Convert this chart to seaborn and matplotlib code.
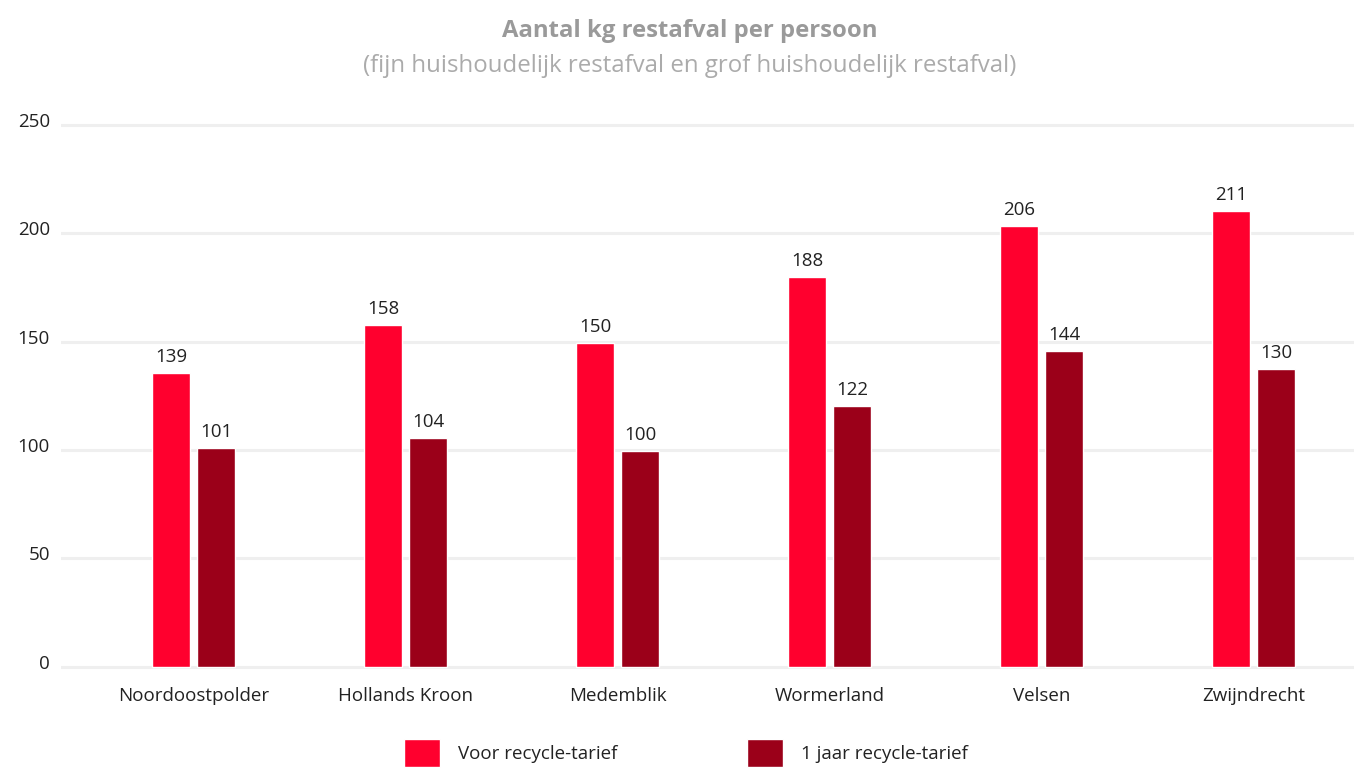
import matplotlib
matplotlib.use("Agg")
import matplotlib.pyplot as plt
import matplotlib.transforms as mtransforms
import seaborn as sns
import pandas as pd

gemeenten = ["Noordoostpolder", "Hollands Kroon", "Medemblik", "Wormerland", "Velsen", "Zwijndrecht"]
series_names = ["Voor recycle-tarief", "1 jaar recycle-tarief"]
# bar heights as drawn in the picture
voor_heights = [135.5, 157.7, 149.5, 179.8, 203.5, 210.3]
na_heights = [100.9, 105.7, 99.5, 120.3, 145.7, 137.4]
# value labels as printed on the picture
voor_labels = [139, 158, 150, 188, 206, 211]
na_labels = [101, 104, 100, 122, 144, 130]
yticks = [0, 50, 100, 150, 200, 250]
colors = {"Voor recycle-tarief": "#FF002E", "1 jaar recycle-tarief": "#9B0019"}

df = pd.DataFrame({
    "gemeente": gemeenten * 2,
    "serie": [series_names[0]] * len(gemeenten) + [series_names[1]] * len(gemeenten),
    "kg": voor_heights + na_heights,
})

sns.set_theme(style="white")
plt.rcParams["font.family"] = ["Open Sans", "DejaVu Sans"]

FS = 13.5
fig = plt.figure(figsize=(13.54, 7.68), dpi=100)
ax = fig.add_axes([61 / 1354, 0.1263, 1 - 61 / 1354, 0.8430 - 0.1263])

sns.barplot(data=df, x="gemeente", y="kg", hue="serie", order=gemeenten,
            hue_order=series_names, palette=colors, width=0.424, gap=0.156,
            saturation=1, ax=ax, zorder=3)

ax.set_xlim(-0.626, 5.473)
ax.set_ylim(-2, 252)
ax.set_yticks(yticks)
ax.yaxis.grid(True, color="#efefef", linewidth=2.2, zorder=0)
ax.set_axisbelow(True)
for s in ax.spines.values():
    s.set_visible(False)
ax.set_xlabel("")
ax.set_ylabel("")
ax.tick_params(axis="both", length=0, labelsize=FS, colors="#222222")
ax.tick_params(axis="y", pad=8)
ax.tick_params(axis="x", pad=11.5)
offset = mtransforms.ScaledTranslation(0, 5 / 100, fig.dpi_scale_trans)
for lab in ax.get_yticklabels():
    lab.set_transform(lab.get_transform() + offset)

label_sets = [voor_labels, na_labels]
for container, labs in zip(ax.containers, label_sets):
    for bar, lab in zip(container, labs):
        ax.annotate(str(lab), (bar.get_x() + bar.get_width() / 2, bar.get_height()),
                    xytext=(0, 8), textcoords="offset points", ha="center",
                    va="baseline", fontsize=FS, color="#222222")

handles, labels = ax.get_legend_handles_labels()
ax.get_legend().remove()
fig.legend(handles, labels, loc="center", bbox_to_anchor=(0.5066, 0.0198), ncol=2,
           frameon=False, fontsize=FS, handlelength=1.92, handleheight=1.92,
           handletextpad=0.96, columnspacing=6.9, labelcolor="#222222")

fig.text(690 / 1354, 1 - 31 / 768, "Aantal kg restafval per persoon", ha="center",
         va="center", fontsize=17.2, fontweight="bold", color="#9a9a9a")
fig.text(690 / 1354, 1 - 66 / 768, "(fijn huishoudelijk restafval en grof huishoudelijk restafval)",
         ha="center", va="center", fontsize=17.3, color="#ababab")

fig.savefig("out.png", dpi=100)
